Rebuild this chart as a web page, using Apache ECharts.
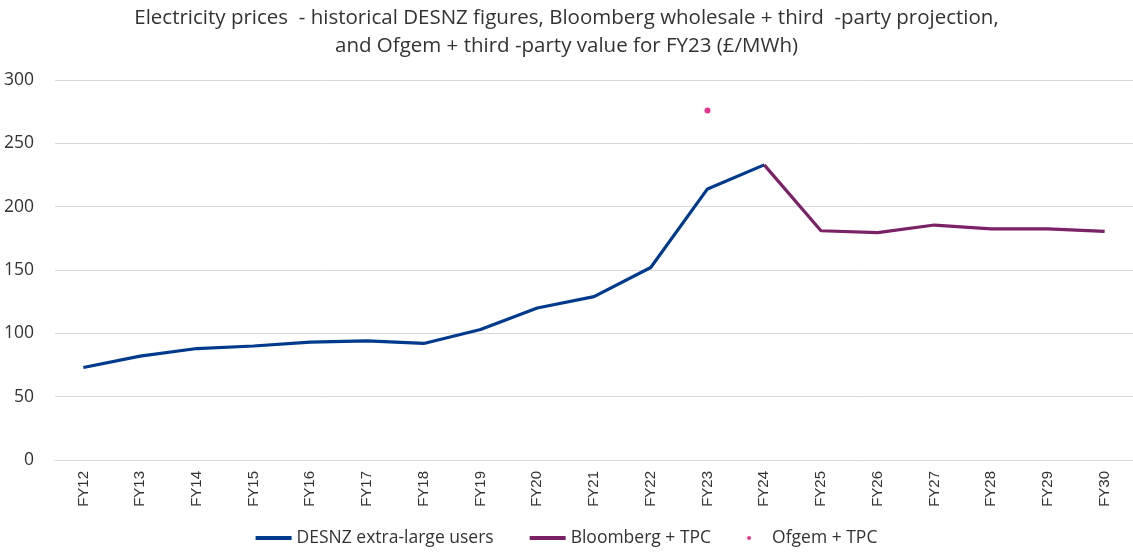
<!DOCTYPE html>
<html>
<head>
<meta charset="utf-8">
<script src="https://cdn.jsdelivr.net/npm/echarts@6/dist/echarts.min.js"></script>
<style>
  html, body { margin: 0; padding: 0; background: #fff; }
  #chart { width: 1133px; height: 554px; }
</style>
</head>
<body>
<div id="chart"></div>
<script>
// ===== 数据 =====
var years = ['FY12', 'FY13', 'FY14', 'FY15', 'FY16', 'FY17', 'FY18', 'FY19', 'FY20', 'FY21',
             'FY22', 'FY23', 'FY24', 'FY25', 'FY26', 'FY27', 'FY28', 'FY29', 'FY30'];
var desnz = [73, 82, 88, 90, 93, 94, 92, 103, 120, 129, 152, 214, 233,
             null, null, null, null, null, null];
var bloomberg = [null, null, null, null, null, null, null, null, null, null, null, null, 233,
                 181, 179.5, 185.5, 182.5, 182.5, 180.5];
var ofgem = [null, null, null, null, null, null, null, null, null, null, null, 276,
             null, null, null, null, null, null, null];

var titleLines = [
  'Electricity prices  - historical DESNZ figures, Bloomberg wholesale + third  -party projection,',
  'and Ofgem + third -party value for FY23 (£/MWh)'
];

var chart = echarts.init(document.getElementById('chart'));

var option = {
  backgroundColor: '#ffffff',
  animation: false,
  title: {
    text: titleLines.join('\n'),
    left: 'center',
    top: -1,
    textStyle: {
      fontFamily: 'Open Sans',
      fontSize: 20.5,
      fontWeight: 'normal',
      color: '#333',
      lineHeight: 28
    }
  },
  legend: {
    bottom: 2,
    left: 'center',
    itemGap: 36,
    itemWidth: 36,
    itemHeight: 4,
    textStyle: { fontFamily: 'Open Sans', fontSize: 17.5, color: '#333' },
    data: [
      { name: 'DESNZ extra-large users', icon: 'rect' },
      { name: 'Bloomberg + TPC', icon: 'rect' },
      { name: 'Ofgem + TPC', icon: 'circle' }
    ]
  },
  grid: { left: 55, right: 0, top: 80, bottom: 94 },
  xAxis: {
    type: 'category',
    data: years,
    boundaryGap: true,
    axisLine: { lineStyle: { color: '#d9d9d9' } },
    axisTick: { show: false },
    axisLabel: {
      rotate: 90,
      margin: 11,
      fontFamily: 'Liberation Sans',
      fontSize: 15,
      color: '#333'
    }
  },
  yAxis: {
    type: 'value',
    min: 0,
    max: 300,
    interval: 50,
    axisLine: { show: false },
    axisTick: { show: false },
    splitLine: { lineStyle: { color: '#d9d9d9', width: 1 } },
    axisLabel: {
      margin: 21,
      fontFamily: 'Open Sans',
      fontSize: 17.5,
      color: '#333'
    }
  },
  series: [
    {
      name: 'DESNZ extra-large users',
      type: 'line',
      data: desnz,
      symbol: 'none',
      lineStyle: { color: '#003a8c', width: 3.2 },
      itemStyle: { color: '#003a8c' }
    },
    {
      name: 'Bloomberg + TPC',
      type: 'line',
      data: bloomberg,
      symbol: 'none',
      lineStyle: { color: '#7b2165', width: 3.2 },
      itemStyle: { color: '#7b2165' }
    },
    {
      name: 'Ofgem + TPC',
      type: 'scatter',
      data: ofgem,
      symbolSize: 6,
      itemStyle: { color: '#e0006e' }
    }
  ]
};

chart.setOption(option);
</script>
</body>
</html>
